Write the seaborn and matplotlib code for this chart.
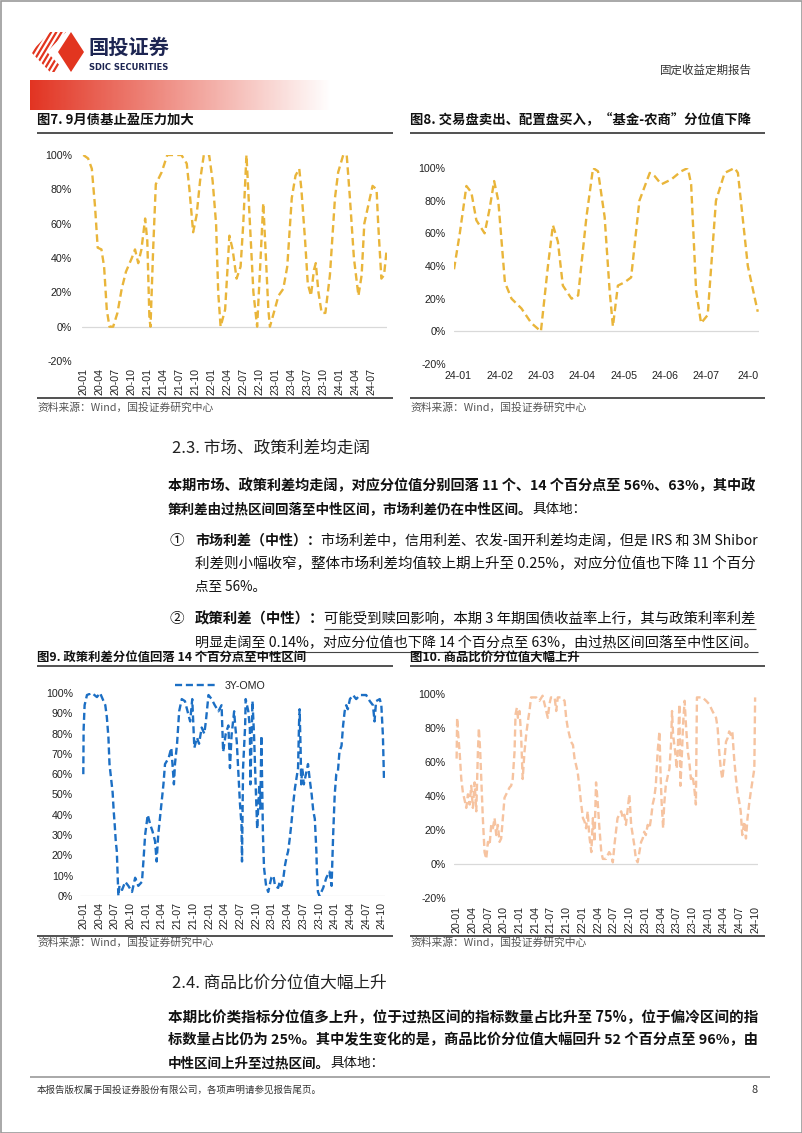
import matplotlib
matplotlib.use("Agg")
import matplotlib.pyplot as plt
import seaborn as sns
import numpy as np
import pandas as pd
from matplotlib.patches import Polygon, Rectangle

# ---------------- data ----------------
# Fig 7: months since 2020-01
c7_t = [0, 0.9, 1.6, 2.2, 2.7, 3.4, 3.9, 4.4, 4.9, 5.6, 6.4, 7.2, 8.0, 9.1, 9.7, 10.3, 10.9, 11.6, 12.0,
        12.4, 12.6, 13.1, 13.6, 14.7, 15.75, 16.9, 18.4, 19.4, 19.9, 20.6, 21.25, 21.9, 22.6, 23.6, 24.25,
        24.9, 25.3, 25.75, 26.6, 27.4, 28.0, 28.75, 29.5, 30.0, 30.6, 31.25, 31.9, 32.6, 33.25, 33.75,
        34.25, 34.7, 35.0, 35.9, 36.6, 37.5, 38.25, 39.1, 39.8, 40.5, 40.9, 41.6, 42.1, 42.7, 43.25, 43.6,
        44.1, 44.7, 45.4, 46.25, 47.2, 47.8, 48.75, 49.4, 50.0, 50.75, 51.6, 52.2, 52.7, 53.4, 54.25,
        55.0, 55.3, 55.9, 56.4, 56.9]
c7_v = [100, 98, 92, 70, 46, 45, 35, 10, 0, 0, 8, 22, 32, 40, 45, 37, 45, 63, 50,
        5, 0, 45, 83, 90, 100, 100, 100, 95, 80, 55, 65, 85, 100, 100, 85,
        60, 20, 0, 10, 53, 45, 28, 35, 60, 100, 60, 20, 0, 40, 72,
        40, 10, 0, 10, 18, 22, 35, 75, 88, 92, 80, 50, 25, 18, 33, 37,
        20, 8, 8, 30, 75, 90, 100, 100, 75, 40, 18, 30, 60, 70, 82,
        80, 60, 28, 30, 45]
c7_ticks = ["20-01", "20-04", "20-07", "20-10", "21-01", "21-04", "21-07", "21-10", "22-01", "22-04",
            "22-07", "22-10", "23-01", "23-04", "23-07", "23-10", "24-01", "24-04", "24-07"]

# Fig 8: months since 2024-01
c8_t = [-0.1, 0.04, 0.2, 0.32, 0.44, 0.64, 0.76, 0.87, 0.97, 1.13, 1.29, 1.53, 1.77, 2.0, 2.17, 2.29,
        2.41, 2.53, 2.74, 2.9, 3.1, 3.26, 3.38, 3.54, 3.66, 3.74, 3.86, 4.02, 4.18, 4.38, 4.63, 4.75,
        4.91, 5.15, 5.39, 5.55, 5.63, 5.75, 5.87, 6.03, 6.23, 6.44, 6.68, 6.76, 7.0, 7.24]
c8_v = [38, 60, 89, 85, 68, 60, 75, 92, 80, 30, 20, 14, 5, 0, 40, 65,
        55, 28, 20, 22, 70, 100, 98, 70, 25, 3, 28, 30, 33, 80, 97, 95,
        90, 93, 98, 100, 90, 25, 5, 10, 80, 97, 100, 97, 40, 12]
c8_ticks = ["24-01", "24-02", "24-03", "24-04", "24-05", "24-06", "24-07", "24-0"]

# Fig 9: 3Y-OMO percentile, months since 2020-01
c9_t = [0, 0.06, 0.25, 0.7, 1.65, 2.6, 3.2, 4.2, 4.5, 4.8, 5.0, 5.3, 5.6, 5.8, 6.0, 6.2, 6.4, 6.5, 6.6,
        6.7, 6.9, 7.4, 8.0, 8.6, 9.3, 9.9, 10.5, 11.2, 11.5, 11.8, 12.3, 12.8, 13.2, 13.7, 14.0, 14.3,
        14.9, 15.3, 15.6, 16.3, 16.8, 17.0, 17.3, 17.5, 17.9, 18.3, 18.8, 19.4, 19.9, 20.4, 20.8, 21.2,
        21.7, 22.1, 22.6, 23.1, 23.4, 23.9, 24.5, 25.1, 25.8, 26.4, 26.7, 27.2, 27.7,
        28.0, 28.3, 28.8, 29.0, 29.3, 29.6, 29.9, 30.2, 30.3, 30.5, 30.9, 31.0, 31.5, 31.8, 31.9, 32.3,
        32.6, 32.9, 33.2, 33.6, 33.8, 34.0, 34.2, 34.3, 34.5, 34.9, 35.3, 35.9, 36.3, 36.6, 37.2, 37.5,
        37.8, 38.2, 38.5, 38.8, 39.1, 39.4, 39.7, 40.1, 40.4, 40.7, 41.0, 41.2, 41.3, 41.5, 41.6, 41.8,
        42.1, 42.5, 42.9, 43.2, 43.6, 43.9, 44.2, 44.5, 44.6, 44.8, 45.1, 45.8, 46.4, 47.0, 47.4, 47.7,
        48.0, 48.3, 48.6, 48.9, 49.3, 49.6, 49.9, 50.2, 50.5, 50.9, 51.5, 52.1, 52.8, 53.4, 54.0, 54.7,
        55.3, 55.6, 55.9, 56.6, 56.9, 57.2, 57.4]
c9_v = [60, 82, 94, 99, 100, 98, 100, 94, 88, 78, 65, 58, 51, 42, 35, 27, 22, 14, 7,
        0, 5, 3, 7, 5, 2, 9, 5, 7, 18, 30, 40, 35, 32, 27, 17, 30,
        45, 55, 65, 68, 73, 66, 55, 65, 75, 91, 97, 96, 91, 86, 97, 73,
        78, 75, 83, 80, 86, 99, 97, 94, 91, 94, 71, 80, 84,
        63, 79, 91, 84, 76, 61, 46, 35, 17, 63, 84, 97, 91, 83, 55, 96,
        79, 55, 33, 55, 43, 79, 46, 30, 14, 5, 2, 9, 10, 5, 4, 7,
        5, 9, 15, 19, 22, 28, 35, 46, 53, 58, 63, 86, 92, 71, 55, 63,
        55, 60, 65, 58, 50, 42, 38, 22, 12, 2, 0, 4, 9, 12, 5, 30,
        50, 60, 61, 71, 74, 84, 91, 94, 92, 97, 99, 97, 99, 99, 99, 96,
        94, 86, 96, 97, 94, 79, 58]
q_ticks = ["20-01", "20-04", "20-07", "20-10", "21-01", "21-04", "21-07", "21-10", "22-01", "22-04",
           "22-07", "22-10", "23-01", "23-04", "23-07", "23-10", "24-01", "24-04", "24-07", "24-10"]

# Fig 10: commodity price ratio percentile, months since 2020-01
c10_t = [0, 0.1, 0.25, 0.57, 0.89, 1.2, 1.5, 1.84, 2.16, 2.48, 2.79, 3.1, 3.43, 3.75, 4.06, 4.25, 4.5,
         4.7, 5.0, 5.33, 5.65, 5.97, 6.29, 6.6, 6.92, 7.24, 7.56, 7.87, 8.19, 8.5, 8.83, 9.14, 9.46,
         9.78, 10.1, 10.4, 10.7, 11.05, 11.24, 11.5, 11.7, 12.0, 12.3, 12.6, 12.95, 13.27, 13.6, 13.9,
         14.2, 15.2, 15.8, 16.4, 17.1, 17.4, 17.7, 18.0, 18.7, 19.0, 19.3, 19.9, 20.6, 20.9, 21.2, 21.5,
         21.8, 22.2, 22.5, 22.8, 23.1, 23.4, 23.7, 24.1, 24.4, 24.7, 25.0, 25.3, 25.7, 26.0, 26.3, 26.6,
         26.9, 27.2, 27.6, 27.9, 28.5, 29.1, 29.5, 29.8, 30.1, 30.4, 30.7, 31.05, 31.4, 31.7, 32.0, 32.3,
         32.6, 32.95, 33.3, 33.6, 33.9, 34.2, 34.54, 34.86, 35.2, 35.5, 35.8, 36.1, 36.45, 36.8, 37.1,
         37.4, 37.7, 38.0, 38.35, 38.7, 38.9, 39.1, 39.4, 39.6, 39.9, 40.3, 40.6, 40.9, 41.1, 41.3, 41.7,
         42.0, 42.2, 42.5, 42.7, 43.0, 43.2, 43.5, 43.75, 44.1, 44.4, 44.7, 45.0, 45.3, 45.65, 45.85,
         46.3, 46.9, 47.6, 48.2, 48.8, 49.5, 49.8, 50.1, 50.4, 50.7, 51.05, 51.4, 51.7, 52.0, 52.3, 52.6,
         52.95, 53.3, 53.6, 53.9, 54.2, 54.5, 54.9, 55.2, 55.5, 55.8, 56.1, 56.45, 56.8, 56.95]
c10_v = [62, 86, 78, 66, 50, 42, 38, 33, 41, 35, 46, 33, 48, 31, 66, 80, 66,
         50, 27, 7, 3, 13, 11, 23, 21, 27, 17, 23, 13, 15, 27, 39, 41,
         43, 45, 46, 50, 66, 88, 92, 86, 90, 76, 50, 66, 76, 84, 90,
         98, 98, 96, 99, 90, 86, 94, 98, 98, 90, 98, 98, 96, 86, 80, 76,
         72, 70, 62, 58, 54, 46, 37, 27, 25, 21, 31, 17, 7, 27, 13, 48,
         37, 23, 7, 3, 3, 7, 5, 1, 11, 19, 27, 29, 31, 27, 29, 23,
         31, 41, 23, 17, 11, 3, 1, 7, 13, 15, 19, 17, 23, 21, 27,
         35, 39, 46, 66, 78, 54, 37, 21, 35, 46, 52, 56, 70, 90, 76, 66,
         56, 68, 94, 46, 66, 82, 96, 82, 66, 60, 50, 52, 46, 35, 98,
         98, 98, 96, 94, 90, 86, 80, 66, 56, 50, 60, 72, 74, 78, 76, 78,
         62, 50, 42, 37, 31, 17, 25, 15, 27, 35, 42, 49, 56, 98]

# ---------------- figure ----------------
sns.set_theme(style="white")
CJK = ['Noto Sans CJK SC', 'DejaVu Sans']
plt.rcParams['font.family'] = CJK
plt.rcParams['axes.unicode_minus'] = False

W, H = 802, 1133
fig = plt.figure(figsize=(W / 100, H / 100), dpi=100)
fig.patch.set_facecolor('white')

bg = fig.add_axes([0, 0, 1, 1])
bg.set_xlim(0, W)
bg.set_ylim(H, 0)
bg.axis('off')
bg.set_zorder(-5)
renderer = fig.canvas.get_renderer()


def add_ax(l, t, r, b):
    return fig.add_axes([l / W, 1 - b / H, (r - l) / W, (b - t) / H])


def txt(x, y, s, size=10, weight='normal', color='#111111', ha='left', va='center', **kw):
    return bg.text(x, y, s, fontsize=size, fontweight=weight, color=color, ha=ha, va=va, **kw)


def hline(x0, x1, y, color='#333333', lw=1.0):
    bg.plot([x0, x1], [y, y], color=color, lw=lw, solid_capstyle='butt')


def measure(s, w, size, **kw):
    t = txt(0, 0, s, size=size, weight=w, **kw)
    wd = t.get_window_extent(renderer).width
    t.remove()
    return wd


def fit(x, y, s, width, size=10, weight='normal', **kw):
    size = size * width / measure(s, weight, size, **kw)
    return txt(x, y, s, size=size, weight=weight, **kw)


def runs(x, y, parts, size=10, target=None):
    if target is not None:
        tot = sum(measure(s, w, size) for s, w, u in parts)
        size = size * target / tot
    for s, w, ul in parts:
        t = txt(x, y, s, size=size, weight=w)
        wd = t.get_window_extent(renderer).width
        if ul:
            hline(x, x + wd, y + 10, color='#444444', lw=0.8)
        x += wd


# page border
bg.add_patch(Rectangle((0.5, 0.5), W - 1, H - 1, fill=False, ec='#9a9a9a', lw=1.2))

# header logo
red = '#e2351f'
stripe_clip = Polygon([(31, 52), (50, 32), (66, 32), (47, 52), (66, 72), (50, 72)], closed=True,
                      transform=bg.transData, fc='none', ec='none')
bg.add_patch(stripe_clip)
for k in range(7):
    x0 = 22 + k * 5.2
    ln, = bg.plot([x0, x0 + 24], [72, 32], color=red, lw=1.6)
    ln.set_clip_path(stripe_clip)
bg.add_patch(Polygon([(58, 52), (71, 32), (84, 52), (71, 72)], closed=True, fc=red, ec='none'))
fit(88, 47, "国投证券", 81, size=15, weight='bold', color='#1d2552')
fit(89, 67.5, "SDIC SECURITIES", 79, size=7.5, weight='bold', color='#1d2552',
    family='DejaVu Sans', fontstretch='condensed')
txt(660, 70, "固定收益定期报告", size=8.3, color='#333333')

# gradient bar
gax = add_ax(30, 80, 332, 110)
n = 300
tt = np.linspace(0, 1, n)
alpha = np.clip(1 - tt, 0, 1) ** 1.0
img = np.zeros((1, n, 4))
img[..., 0] = 0.89
img[..., 1] = 0.20
img[..., 2] = 0.13
img[..., 3] = alpha
gax.imshow(img, aspect='auto', extent=(0, 1, 0, 1))
gax.axis('off')

# ---------------- chart helpers ----------------
GOLD = '#e9b53a'
BLUE = '#1c6fc4'
PEACH = '#f6c3a0'


def style(ax, xlim, ylim, yticks, xticks, xlabels, rot, xpad, ypad):
    ax.set_xlim(*xlim)
    ax.set_ylim(*ylim)
    ax.set_yticks(yticks)
    ax.set_yticklabels([f"{v}%" for v in yticks])
    ax.set_xticks(xticks)
    ax.set_xticklabels(xlabels, rotation=rot)
    for sp in ax.spines.values():
        sp.set_visible(False)
    ax.tick_params(axis='x', length=0, labelsize=7.7, colors='#222222', pad=xpad)
    ax.tick_params(axis='y', length=0, labelsize=7.7, colors='#222222', pad=ypad)
    for lb in ax.get_xticklabels() + ax.get_yticklabels():
        lb.set_fontfamily('Liberation Sans')
    ax.axhline(0, color='#d9d9d9', lw=0.9, zorder=0)
    ax.set_xlabel('')
    ax.set_ylabel('')
    ax.grid(False)
    ax.patch.set_alpha(0)


# Fig 7
ax7 = add_ax(81.7, 155, 386.7, 361)
df7 = pd.DataFrame({'t': c7_t, 'v': c7_v})
sns.lineplot(data=df7, x='t', y='v', ax=ax7, color=GOLD, lw=1.7, linestyle=(0, (3.2, 1.8)), legend=False)
style(ax7, (-0.3, 56.9), (-20, 100), list(range(-20, 101, 20)),
      list(range(0, 3 * len(c7_ticks), 3)), c7_ticks, 90, 5, 7)

# Fig 8
ax8 = add_ax(454, 168, 759, 364)
df8 = pd.DataFrame({'t': c8_t, 'v': c8_v})
sns.lineplot(data=df8, x='t', y='v', ax=ax8, color=GOLD, lw=1.7, linestyle=(0, (3.2, 1.8)), legend=False)
style(ax8, (-0.1, 7.27), (-20, 100), list(range(-20, 101, 20)),
      list(range(len(c8_ticks))), c8_ticks, 0, 5, 6)

# Fig 9
ax9 = add_ax(80, 693, 385, 896)
df9 = pd.DataFrame({'t': c9_t, 'v': c9_v})
sns.lineplot(data=df9, x='t', y='v', ax=ax9, color=BLUE, lw=1.7, linestyle=(0, (3.0, 1.6)), label='3Y-OMO')
style(ax9, (-0.63, 57.6), (0, 100), list(range(0, 101, 10)),
      list(range(0, 3 * len(q_ticks), 3)), q_ticks, 90, 4, 5)
ax9.legend(loc='lower center', bbox_to_anchor=(0.46, 1.0), frameon=False, handlelength=3.8,
           borderaxespad=0.1, borderpad=0.1, prop={'family': 'Liberation Sans', 'size': 7.7})

# Fig 10
ax10 = add_ax(454, 694, 758, 898)
df10 = pd.DataFrame({'t': c10_t, 'v': c10_v})
sns.lineplot(data=df10, x='t', y='v', ax=ax10, color=PEACH, lw=1.7, linestyle=(0, (3.0, 1.6)), legend=False)
style(ax10, (-0.5, 57.5), (-20, 100), list(range(-20, 101, 20)),
      list(range(0, 3 * len(q_ticks), 3)), q_ticks, 90, 6, 6)

# ---------------- texts ----------------
src = "资料来源：Wind，国投证券研究中心"
txt(37, 120, "图7. 9月债基止盈压力加大", size=9.6, weight='bold')
txt(410, 120, "图8. 交易盘卖出、配置盘买入，“基金-农商”分位值下降", size=9.6, weight='bold')
hline(37, 393, 133, lw=1.2)
hline(410, 765, 133, lw=1.2)
hline(37, 393, 398, lw=1.2)
hline(410, 765, 398, lw=1.2)
fit(37, 408, src, 176, size=6.6, color='#555555')
fit(410, 408, src, 176, size=6.6, color='#555555')

txt(37, 657, "图9. 政策利差分位值回落 14 个百分点至中性区间", size=8.9, weight='bold')
txt(410, 657, "图10. 商品比价分位值大幅上升", size=8.9, weight='bold')
hline(37, 393, 666, lw=1.2)
hline(410, 765, 666, lw=1.2)
hline(37, 393, 936, lw=1.2)
hline(410, 765, 936, lw=1.2)
fit(37, 943, src, 176, size=6.6, color='#555555')
fit(410, 943, src, 176, size=6.6, color='#555555')

# section 2.3
txt(172, 448, "2.3. 市场、政策利差均走阔", size=12, color='#222222')
runs(168, 486, [("本期市场、政策利差均走阔，对应分位值分别回落 11 个、14 个百分点至 56%、63%，其中政", 'bold', False)],
     target=589)
runs(168, 509, [("策利差由过热区间回落至中性区间，市场利差仍在中性区间。", 'bold', False), ("具体地：", 'normal', False)],
     size=9.75)
txt(170, 541, "①", size=10.5)
runs(195, 541, [("市场利差（中性）：", 'bold', False),
                ("市场利差中，信用利差、农发-国开利差均走阔，但是 IRS 和 3M Shibor", 'normal', False)], target=562)
runs(195, 564, [("利差则小幅收窄，整体市场利差均值较上期上升至 0.25%，对应分位值也下降 11 个百分", 'normal', False)],
     target=562)
runs(195, 587, [("点至 56%。", 'normal', False)], size=9.75)
txt(170, 619, "②", size=10.5)
runs(195, 619, [("政策利差（中性）：", 'bold', False),
                ("可能受到赎回影响，本期 3 年期国债收益率上行，其与政策利率利差", 'normal', True)], target=562)
runs(195, 642, [("明显走阔至 0.14%，对应分位值也下降 14 个百分点至 63%，由过热区间回落至中性区间。", 'normal', True)],
     target=562)

# section 2.4
txt(172, 983, "2.4. 商品比价分位值大幅上升", size=12, color='#222222')
runs(168, 1017, [("本期比价类指标分位值多上升，位于过热区间的指标数量占比升至 75%，位于偏冷区间的指", 'bold', False)],
     target=589)
runs(168, 1040, [("标数量占比仍为 25%。其中发生变化的是，商品比价分位值大幅回升 52 个百分点至 96%，由", 'bold', False)],
     target=589)
runs(168, 1063, [("中性区间上升至过热区间。", 'bold', False), ("具体地：", 'normal', False)], size=9.75)

# footer
hline(30, 770, 1077, color='#9a9a9a', lw=1.2)
txt(37, 1090, "本报告版权属于国投证券股份有限公司，各项声明请参见报告尾页。", size=6.8, color='#333333')
txt(752, 1090, "8", size=8, color='#333333')

fig.savefig("out.png", dpi=100, facecolor='white')
